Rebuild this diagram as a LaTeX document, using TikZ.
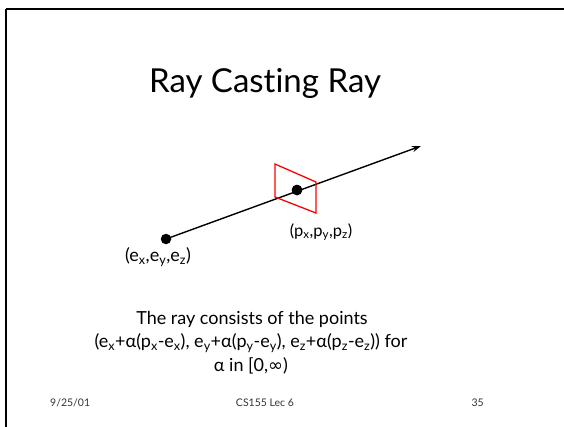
\documentclass[tikz,border=0pt]{standalone}
\usepackage{fontspec}
\setmainfont[Ligatures=NoCommon]{Lato}
\newfontfamily\symfont{DejaVu Sans}
\usetikzlibrary{arrows.meta}
\newcommand\sbs[1]{\textsubscript{#1}}
\begin{document}
\begin{tikzpicture}[x=1pt,y=-1pt,
  dot/.style={circle,fill=black,inner sep=0pt,minimum size=10.5pt},
  lbl/.style={font=\fontsize{16.5}{18}\selectfont,inner sep=0pt},
  body/.style={font=\fontsize{18}{22}\selectfont,inner sep=0pt,align=center},
  foot/.style={font=\fontsize{10.5}{12}\selectfont,inner sep=0pt,text=black!80},
  frame/.style={draw=black,line width=2pt},
  plane/.style={draw=red,line width=1.3pt,line join=miter}]
\useasboundingbox (0,0) rectangle (564,426);
\fill[white] (0,0) rectangle (564,426);
\draw[frame] (5.5,8.5) -- (5.5,440) (5.5,8.5) -- (580,8.5);
\node[font=\fontsize{33}{40}\selectfont,inner sep=0pt] (title) at (265,83) {Ray Casting Ray};
% ray
\coordinate (tip) at (421,146);
\node[dot] (e) at (166,239) {};
\node[dot] (p) at (297,190) {};
\draw[line width=1.4pt,-{Stealth[length=9pt,width=6pt]}] (e.center) -- (tip);
% image plane
\coordinate (q1) at (275,164);
\coordinate (q2) at (316,182);
\coordinate (q3) at (316,213);
\coordinate (q4) at (275,197);
\draw[plane] (q1) -- (q2) -- (q3) -- (q4) -- cycle;
\node[dot] at (p) {};
\node[lbl] (pl) at (321,232) {(p\sbs{x},p\sbs{y},p\sbs{z})};
\node[lbl,font=\fontsize{18}{20}\selectfont] (el) at (158,257) {(e\sbs{x},e\sbs{y},e\sbs{z})};
\node[body] (t1) at (252,319) {The ray consists of the points};
\node[body] (t2) at (251,343) {(e\sbs{x}+α(p\sbs{x}-e\sbs{x}), e\sbs{y}+α(p\sbs{y}-e\sbs{y}), e\sbs{z}+α(p\sbs{z}-e\sbs{z})) for};
\node[body] (t3) at (251,366) {α in [0,{\symfont ∞})};
\node[foot,anchor=west] (f1) at (50,403) {9/25/01};
\node[foot] (f2) at (265,403) {CS155 Lec 6};
\node[foot,anchor=east] (f3) at (484,403) {35};
\end{tikzpicture}
\end{document}
